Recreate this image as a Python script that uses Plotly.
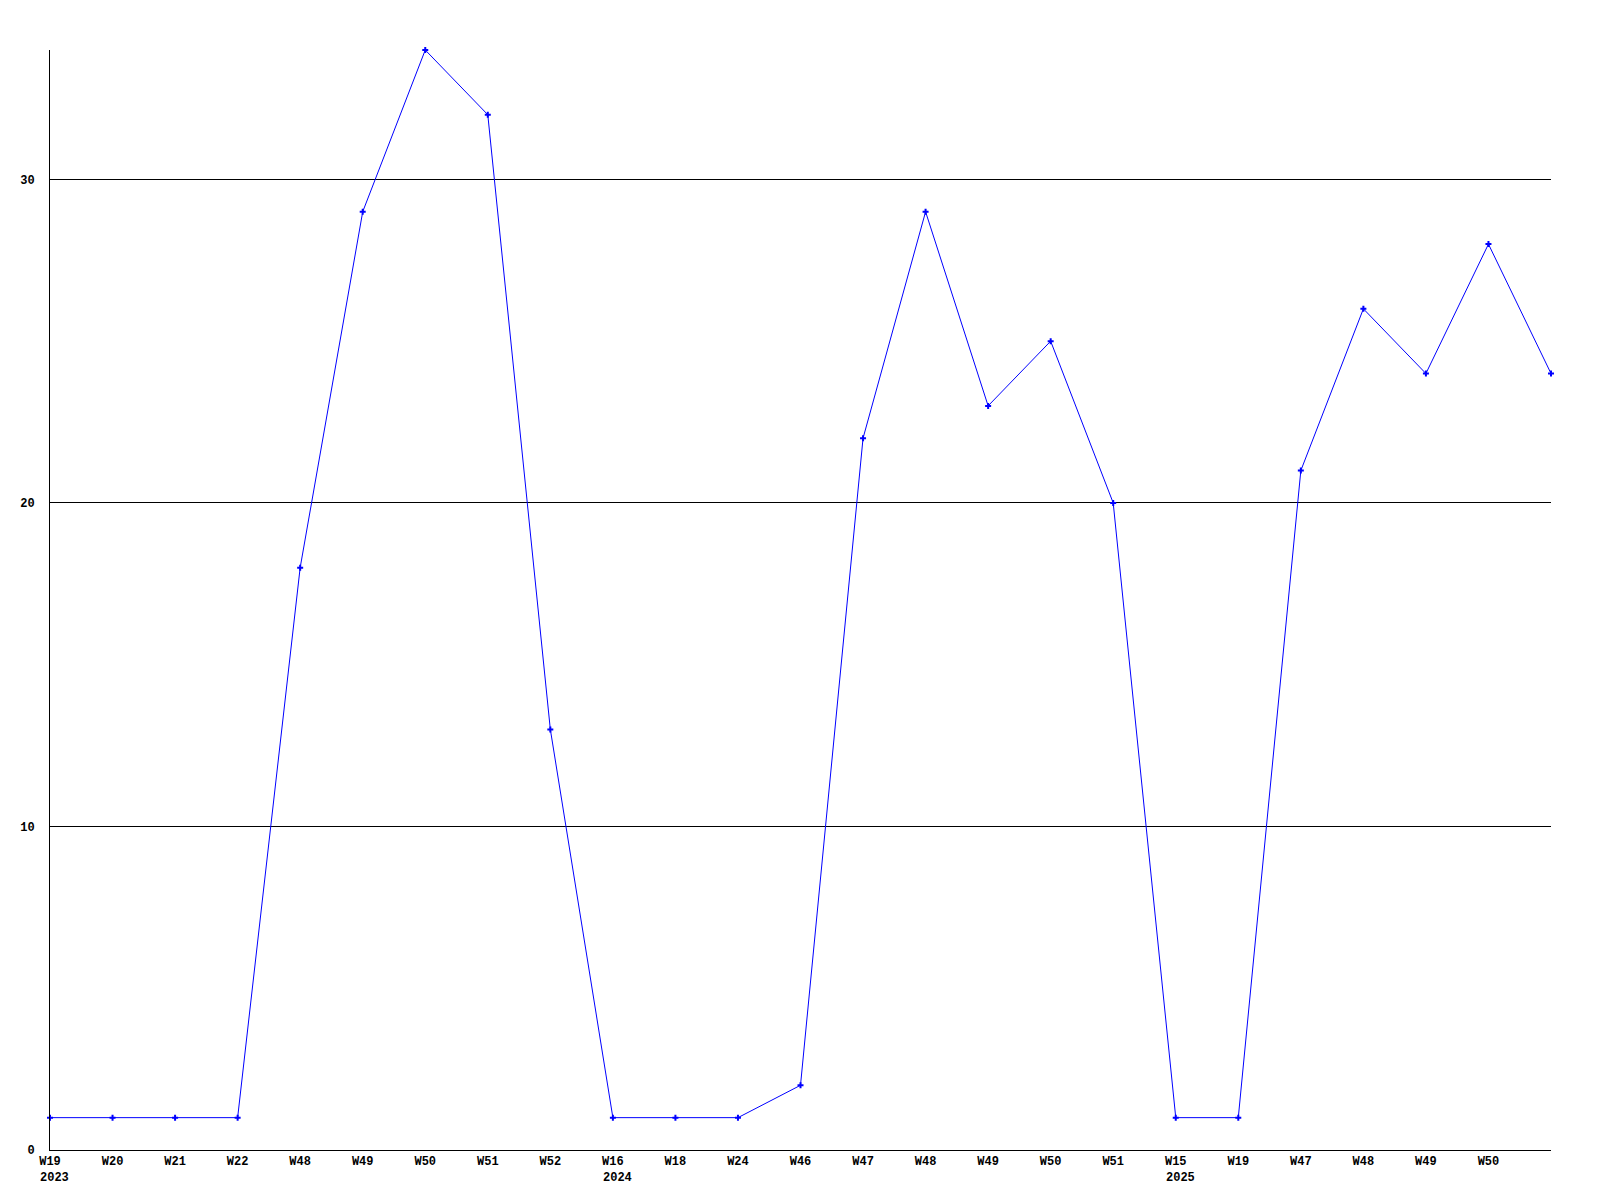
import plotly.graph_objects as go

weeks = ["W19", "W20", "W21", "W22", "W48", "W49", "W50", "W51", "W52",
         "W16", "W18", "W24", "W46", "W47", "W48", "W49", "W50", "W51",
         "W15", "W19", "W47", "W48", "W49", "W50", ""]
values = [1, 1, 1, 1, 18, 29, 34, 32, 13, 1, 1, 1, 2, 22, 29, 23, 25, 20,
          1, 1, 21, 26, 24, 28, 24]
year_positions = [0, 9, 18]
year_labels = ["2023", "2024", "2025"]

idx = list(range(len(values)))
font_family = "Liberation Mono, DejaVu Sans Mono, monospace"

fig = go.Figure()
fig.add_trace(go.Scatter(
    x=idx, y=values, mode="lines+markers",
    line=dict(color="#0000FF", width=1),
    marker=dict(color="#0000FF", size=5, symbol="cross"),
    cliponaxis=False, showlegend=False,
))

for pos, yr in zip(year_positions, year_labels):
    fig.add_annotation(x=pos, y=0, xref="x", yref="paper", text="<b>" + yr + "</b>",
                       showarrow=False, xanchor="left", yanchor="top",
                       xshift=-12, yshift=-19,
                       font=dict(family=font_family, size=12, color="black"))

fig.update_layout(
    width=1600, height=1200,
    margin=dict(l=42, r=57, t=42, b=58, autoexpand=False),
    paper_bgcolor="white", plot_bgcolor="white",
    font=dict(family=font_family, size=12, color="black"),
    xaxis=dict(
        range=[0, len(values) - 1],
        tickmode="array", tickvals=idx[:-1],
        ticktext=["<b>" + w + "</b>" for w in weeks[:-1]],
        showgrid=False, zeroline=False,
        showline=True, linecolor="black", linewidth=1,
        ticks="", ticklen=0, automargin=False,
    ),
    yaxis=dict(
        range=[0, 34],
        tickmode="array", tickvals=[0, 10, 20, 30],
        ticktext=["<b>0</b>", "<b>10</b>", "<b>20</b>", "<b>30</b>"],
        showgrid=True, gridcolor="black", gridwidth=1,
        zeroline=False,
        showline=True, linecolor="black", linewidth=1,
        ticks="", ticklabelstandoff=12, automargin=False,
    ),
)

fig.write_html("out.html")
